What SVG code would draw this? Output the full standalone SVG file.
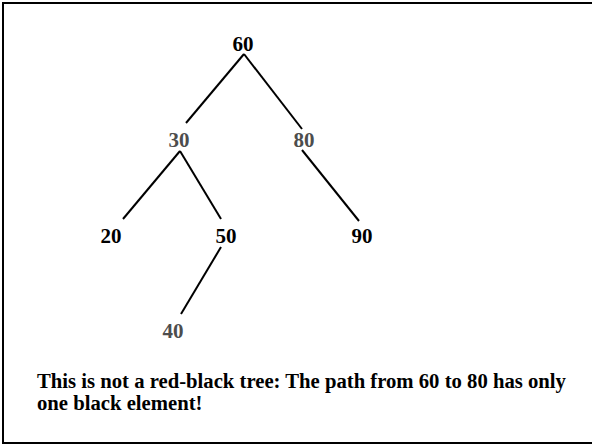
<svg xmlns="http://www.w3.org/2000/svg" width="592" height="445" viewBox="0 0 592 445">
  <style>
    .frame { fill: #ffffff; stroke: #000000; stroke-width: 2; }
    .edge { stroke: #000000; stroke-width: 2; fill: none; }
    .key { font-family: "Liberation Serif", "Times New Roman", serif; font-weight: bold; font-size: 21px; text-anchor: middle; }
    .black { fill: #000000; }
    .red { fill: #4d4d4d; }
    .note { font-family: "Liberation Serif", "Times New Roman", serif; font-weight: bold; font-size: 20.7px; fill: #000000; }
  </style>
  <rect class="frame" x="3" y="3" width="592" height="440"/>

  <g id="connectors">
    <line class="edge" x1="244" y1="54" x2="186" y2="123"/>
    <line class="edge" x1="244" y1="54" x2="302" y2="129"/>
    <line class="edge" x1="180" y1="151" x2="123" y2="219"/>
    <line class="edge" x1="180" y1="151" x2="221" y2="219"/>
    <line class="edge" x1="302" y1="150" x2="359" y2="221"/>
    <line class="edge" x1="221" y1="247" x2="181" y2="314"/>
  </g>

  <g id="n60"><text class="key black" x="243" y="51">60</text></g>
  <g id="n30"><text class="key red" x="179" y="147">30</text></g>
  <g id="n80"><text class="key red" x="304" y="147">80</text></g>
  <g id="n20"><text class="key black" x="111" y="243">20</text></g>
  <g id="n50"><text class="key black" x="226" y="243">50</text></g>
  <g id="n90"><text class="key black" x="362" y="243">90</text></g>
  <g id="n40"><text class="key red" x="173" y="338">40</text></g>

  <g id="caption">
    <text class="note" x="37" y="388">This is not a red-black tree: The path from 60 to 80 has only</text>
    <text class="note" x="37" y="410">one black element!</text>
  </g>
</svg>
